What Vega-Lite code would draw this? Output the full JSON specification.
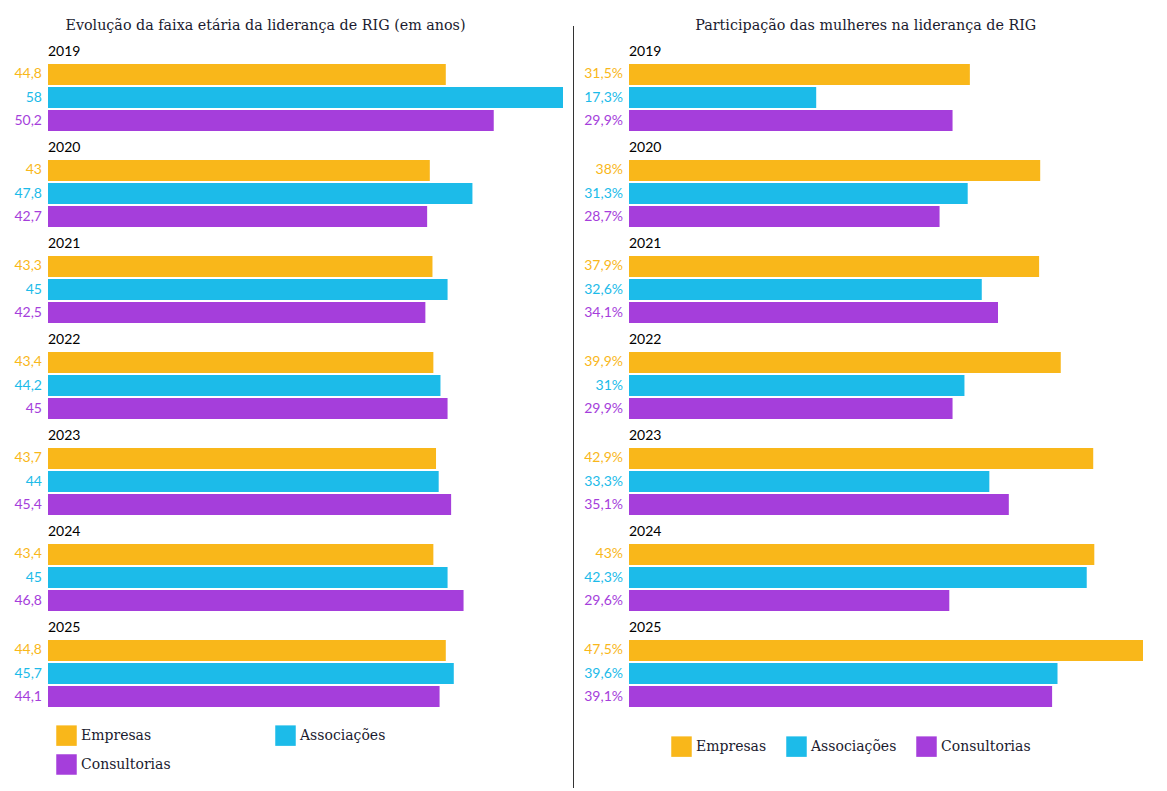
{
  "$schema": "https://vega.github.io/schema/vega-lite/v6.json",
  "padding": {"left": 14, "top": 18, "right": 5, "bottom": 5},
  "datasets": {
    "idade": [
      {"ano": "2019", "serie": "Empresas", "valor": 44.8},
      {"ano": "2019", "serie": "Associações", "valor": 58},
      {"ano": "2019", "serie": "Consultorias", "valor": 50.2},
      {"ano": "2020", "serie": "Empresas", "valor": 43},
      {"ano": "2020", "serie": "Associações", "valor": 47.8},
      {"ano": "2020", "serie": "Consultorias", "valor": 42.7},
      {"ano": "2021", "serie": "Empresas", "valor": 43.3},
      {"ano": "2021", "serie": "Associações", "valor": 45},
      {"ano": "2021", "serie": "Consultorias", "valor": 42.5},
      {"ano": "2022", "serie": "Empresas", "valor": 43.4},
      {"ano": "2022", "serie": "Associações", "valor": 44.2},
      {"ano": "2022", "serie": "Consultorias", "valor": 45},
      {"ano": "2023", "serie": "Empresas", "valor": 43.7},
      {"ano": "2023", "serie": "Associações", "valor": 44},
      {"ano": "2023", "serie": "Consultorias", "valor": 45.4},
      {"ano": "2024", "serie": "Empresas", "valor": 43.4},
      {"ano": "2024", "serie": "Associações", "valor": 45},
      {"ano": "2024", "serie": "Consultorias", "valor": 46.8},
      {"ano": "2025", "serie": "Empresas", "valor": 44.8},
      {"ano": "2025", "serie": "Associações", "valor": 45.7},
      {"ano": "2025", "serie": "Consultorias", "valor": 44.1}
    ],
    "mulheres": [
      {"ano": "2019", "serie": "Empresas", "valor": 0.315},
      {"ano": "2019", "serie": "Associações", "valor": 0.173},
      {"ano": "2019", "serie": "Consultorias", "valor": 0.299},
      {"ano": "2020", "serie": "Empresas", "valor": 0.38},
      {"ano": "2020", "serie": "Associações", "valor": 0.313},
      {"ano": "2020", "serie": "Consultorias", "valor": 0.287},
      {"ano": "2021", "serie": "Empresas", "valor": 0.379},
      {"ano": "2021", "serie": "Associações", "valor": 0.326},
      {"ano": "2021", "serie": "Consultorias", "valor": 0.341},
      {"ano": "2022", "serie": "Empresas", "valor": 0.399},
      {"ano": "2022", "serie": "Associações", "valor": 0.31},
      {"ano": "2022", "serie": "Consultorias", "valor": 0.299},
      {"ano": "2023", "serie": "Empresas", "valor": 0.429},
      {"ano": "2023", "serie": "Associações", "valor": 0.333},
      {"ano": "2023", "serie": "Consultorias", "valor": 0.351},
      {"ano": "2024", "serie": "Empresas", "valor": 0.43},
      {"ano": "2024", "serie": "Associações", "valor": 0.423},
      {"ano": "2024", "serie": "Consultorias", "valor": 0.296},
      {"ano": "2025", "serie": "Empresas", "valor": 0.475},
      {"ano": "2025", "serie": "Associações", "valor": 0.396},
      {"ano": "2025", "serie": "Consultorias", "valor": 0.391}
    ]
  },
  "hconcat": [
    {
      "data": {"name": "idade"},
      "title": {"text": "Evolução da faixa etária da liderança de RIG (em anos)", "anchor": "start", "dx": 51, "offset": 12},
      "facet": {"field": "ano", "type": "ordinal", "title": null},
      "columns": 1,
      "spacing": 10,
      "spec": {
        "width": 515,
        "height": 67,
        "encoding": {
          "y": {"field": "serie", "type": "nominal", "sort": ["Empresas", "Associações", "Consultorias"], "axis": null,
                "scale": {"paddingInner": 0.087, "paddingOuter": 0}}
        },
        "layer": [
          {
            "mark": {"type": "bar"},
            "encoding": {
              "x": {"field": "valor", "type": "quantitative", "axis": null, "scale": {"domain": [0, 58], "nice": false}},
              "color": {"field": "serie", "type": "nominal", "sort": ["Empresas", "Associações", "Consultorias"],
                        "scale": {"domain": ["Empresas", "Associações", "Consultorias"], "range": ["#F9B71A", "#1CBBE9", "#A53EDB"]},
                        "legend": {"orient": "none", "legendX": 8, "legendY": 661, "columns": 2, "columnPadding": 104}}
            }
          },
          {
            "mark": {"type": "text", "align": "right", "baseline": "middle", "dx": -6, "font": "Lato", "fontSize": 14},
            "encoding": {
              "x": {"datum": 0, "type": "quantitative"},
              "text": {"field": "valor", "type": "quantitative", "format": "~r"},
              "color": {"field": "serie", "type": "nominal"}
            }
          }
        ]
      }
    },
    {
      "data": {"values": [{"linha": 1}]},
      "width": 1,
      "height": 724,
      "mark": {"type": "rule", "color": "#333333", "strokeWidth": 1, "clip": false},
      "encoding": {
        "y": {"datum": 0, "type": "quantitative", "axis": null, "scale": {"domain": [0, 1], "nice": false, "zero": false}},
        "y2": {"datum": 1.0525}
      }
    },
    {
      "data": {"name": "mulheres"},
      "title": {"text": "Participação das mulheres na liderança de RIG", "anchor": "start", "dx": 111, "offset": 12},
      "facet": {"field": "ano", "type": "ordinal", "title": null},
      "columns": 1,
      "spacing": 10,
      "spec": {
        "width": 514,
        "height": 67,
        "encoding": {
          "y": {"field": "serie", "type": "nominal", "sort": ["Empresas", "Associações", "Consultorias"], "axis": null,
                "scale": {"paddingInner": 0.087, "paddingOuter": 0}}
        },
        "layer": [
          {
            "mark": {"type": "bar"},
            "encoding": {
              "x": {"field": "valor", "type": "quantitative", "axis": null, "scale": {"domain": [0, 0.475], "nice": false}},
              "color": {"field": "serie", "type": "nominal", "sort": ["Empresas", "Associações", "Consultorias"],
                        "scale": {"domain": ["Empresas", "Associações", "Consultorias"], "range": ["#F9B71A", "#1CBBE9", "#A53EDB"]},
                        "legend": {"orient": "none", "legendX": 42, "legendY": 672, "columnPadding": 19}}
            }
          },
          {
            "mark": {"type": "text", "align": "right", "baseline": "middle", "dx": -6, "font": "Lato", "fontSize": 14},
            "encoding": {
              "x": {"datum": 0, "type": "quantitative"},
              "text": {"field": "valor", "type": "quantitative", "format": ".1~%"},
              "color": {"field": "serie", "type": "nominal"}
            }
          }
        ]
      }
    }
  ],
  "spacing": 10,
  "resolve": {"legend": {"color": "independent"}, "scale": {"color": "independent"}},
  "config": {
    "locale": {"number": {"decimal": ",", "thousands": ".", "grouping": [3], "currency": ["R$", ""]}},
    "view": {"stroke": null},
    "title": {"font": "DejaVu Serif", "fontSize": 14.3, "fontWeight": "normal", "color": "#1b1b2f"},
    "header": {"title": null, "labelAnchor": "start", "labelAlign": "left", "labelAngle": 0, "labelFont": "Lato", "labelFontSize": 14, "labelColor": "#000000", "labelPadding": -9},
    "legend": {"direction": "horizontal", "title": null, "labelFont": "DejaVu Serif", "labelFontSize": 14, "labelColor": "#1b1b2f", "symbolType": "square", "symbolSize": 420, "symbolStrokeWidth": 0, "symbolOpacity": 1, "labelOffset": 4, "rowPadding": 8}
  }
}
